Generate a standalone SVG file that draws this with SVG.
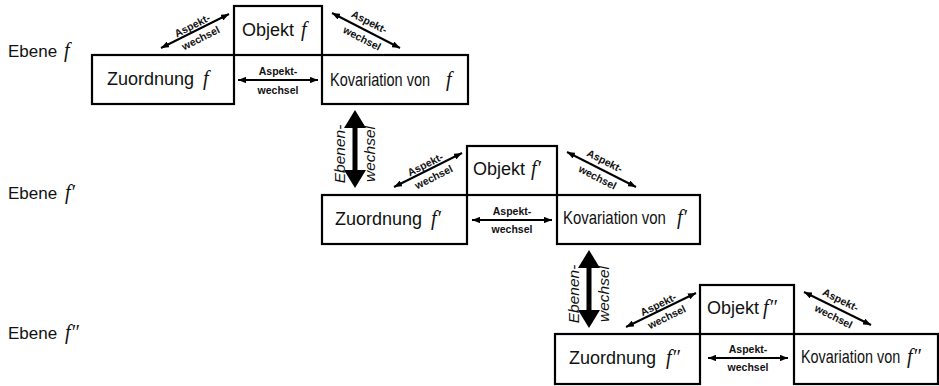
<svg xmlns="http://www.w3.org/2000/svg" width="939" height="386" viewBox="0 0 939 386">
<style>
.box{fill:none;stroke:#000;stroke-width:2.2}
.lbl{font-family:"Liberation Sans",Arial,sans-serif;font-size:18px;fill:#111}
.kov{font-family:"Liberation Sans",Arial,sans-serif;font-size:18px;fill:#111}
.fn{font-family:"Liberation Serif","Times New Roman",serif;font-style:italic;font-size:20px;fill:#111}
.lev{font-family:"Liberation Sans",Arial,sans-serif;font-size:17px;fill:#111}
.asp{font-family:"Liberation Sans",Arial,sans-serif;font-size:10.5px;font-weight:bold;fill:#111;text-anchor:middle}
.ebw{font-family:"Liberation Sans",Arial,sans-serif;font-size:15.5px;font-style:italic;fill:#111;text-anchor:middle}
.arr{fill:none;stroke:#000;stroke-width:2;marker-start:url(#ah);marker-end:url(#ah)}
.big{fill:#000;stroke:none}
</style>
<defs>
<marker id="ah" viewBox="0 0 10 8" refX="10" refY="4" markerWidth="8" markerHeight="6.5" markerUnits="userSpaceOnUse" orient="auto-start-reverse">
<path d="M0,0 L10,4 L0,8 Z" fill="#000"/>
</marker>
</defs>

<g id="levels">
<text class="lev" x="8" y="57">Ebene <tspan class="fn" x="64" y="57">f</tspan></text>
<text class="lev" x="8" y="199">Ebene <tspan class="fn" x="65" y="199">f′</tspan></text>
<text class="lev" x="8" y="339">Ebene <tspan class="fn" x="65" y="339">f″</tspan></text>
</g>

<!-- Level f -->
<g id="zuordnung1"><rect class="box" x="92" y="55" width="142" height="49"/><text class="lbl" x="107" y="85">Zuordnung</text><text class="fn" x="203" y="85">f</text></g>
<g id="objekt1"><rect class="box" x="234" y="6" width="88" height="49"/><text class="lbl" x="242" y="36">Objekt</text><text class="fn" x="301" y="36">f</text></g>
<g id="kovariation1"><rect class="box" x="322" y="55" width="146" height="49"/><text class="kov" transform="translate(330,86) scale(0.807,1)">Kovariation von</text><text class="fn" x="446" y="86">f</text></g>

<!-- Level f' -->
<g id="zuordnung2"><rect class="box" x="322" y="195" width="145" height="49"/><text class="lbl" x="335" y="225">Zuordnung</text><text class="fn" x="431" y="225">f′</text></g>
<g id="objekt2"><rect class="box" x="467" y="146" width="90" height="49"/><text class="lbl" x="473" y="175">Objekt</text><text class="fn" x="531" y="175">f′</text></g>
<g id="kovariation2"><rect class="box" x="557" y="195" width="143" height="49"/><text class="kov" transform="translate(563,224) scale(0.83,1)">Kovariation von</text><text class="fn" x="677" y="224">f′</text></g>

<!-- Level f'' -->
<g id="zuordnung3"><rect class="box" x="555" y="334" width="145" height="50"/><text class="lbl" x="569" y="364">Zuordnung</text><text class="fn" x="666" y="364">f″</text></g>
<g id="objekt3"><rect class="box" x="700" y="285" width="94" height="49"/><text class="lbl" x="707" y="314">Objekt</text><text class="fn" x="763" y="314">f″</text></g>
<g id="kovariation3"><rect class="box" x="794" y="334" width="144" height="50"/><text class="kov" transform="translate(801,363) scale(0.8,1)">Kovariation von</text><text class="fn" x="907" y="363">f″</text></g>

<g id="connectors">
<!-- Level f aspect changes -->
<path class="arr" d="M161,48 L229,14"/>
<g transform="translate(195,31) rotate(-26.6)"><text class="asp" x="0" y="-2.5">Aspekt-</text><text class="asp" x="2" y="12.5">wechsel</text></g>
<path class="arr" d="M332,13 L400,48"/>
<g transform="translate(366,30.5) rotate(27)"><text class="asp" x="-1" y="-5.5">Aspekt-</text><text class="asp" x="0" y="12.5">wechsel</text></g>
<path class="arr" d="M238,80 L318,80"/>
<text class="asp" x="278" y="75">Aspekt-</text><text class="asp" x="278" y="94">wechsel</text>

<!-- Level f' aspect changes -->
<path class="arr" d="M394,187 L462,153"/>
<g transform="translate(428,170) rotate(-26.6)"><text class="asp" x="0" y="-2.5">Aspekt-</text><text class="asp" x="2" y="12.5">wechsel</text></g>
<path class="arr" d="M567,152 L636,187"/>
<g transform="translate(601.5,169.5) rotate(27)"><text class="asp" x="-1" y="-5.5">Aspekt-</text><text class="asp" x="0" y="12.5">wechsel</text></g>
<path class="arr" d="M472,220 L552,220"/>
<text class="asp" x="512" y="215">Aspekt-</text><text class="asp" x="512" y="233">wechsel</text>

<!-- Level f'' aspect changes -->
<path class="arr" d="M626,327 L696,293"/>
<g transform="translate(661,310) rotate(-26)"><text class="asp" x="0" y="-2.5">Aspekt-</text><text class="asp" x="2" y="12.5">wechsel</text></g>
<path class="arr" d="M804,292 L871,325"/>
<g transform="translate(837.5,308.5) rotate(26.5)"><text class="asp" x="-1" y="-5.5">Aspekt-</text><text class="asp" x="0" y="12.5">wechsel</text></g>
<path class="arr" d="M708,358 L788,358"/>
<text class="asp" x="748" y="353">Aspekt-</text><text class="asp" x="748" y="371">wechsel</text>

<!-- level changes -->
<polygon class="big" points="355,110 366,128 357.5,128 357.5,170 366,170 355,188 344,170 352.5,170 352.5,128 344,128"/>
<g transform="translate(355,149) rotate(-90)"><text class="ebw" x="-5" y="-10">Ebenen-</text><text class="ebw" x="-5" y="20">wechsel</text></g>
<polygon class="big" points="589,250 600,268 591.5,268 591.5,310 600,310 589,328 578,310 586.5,310 586.5,268 578,268"/>
<g transform="translate(589,289) rotate(-90)"><text class="ebw" x="-5" y="-10">Ebenen-</text><text class="ebw" x="-5" y="20">wechsel</text></g>
</g>
</svg>
